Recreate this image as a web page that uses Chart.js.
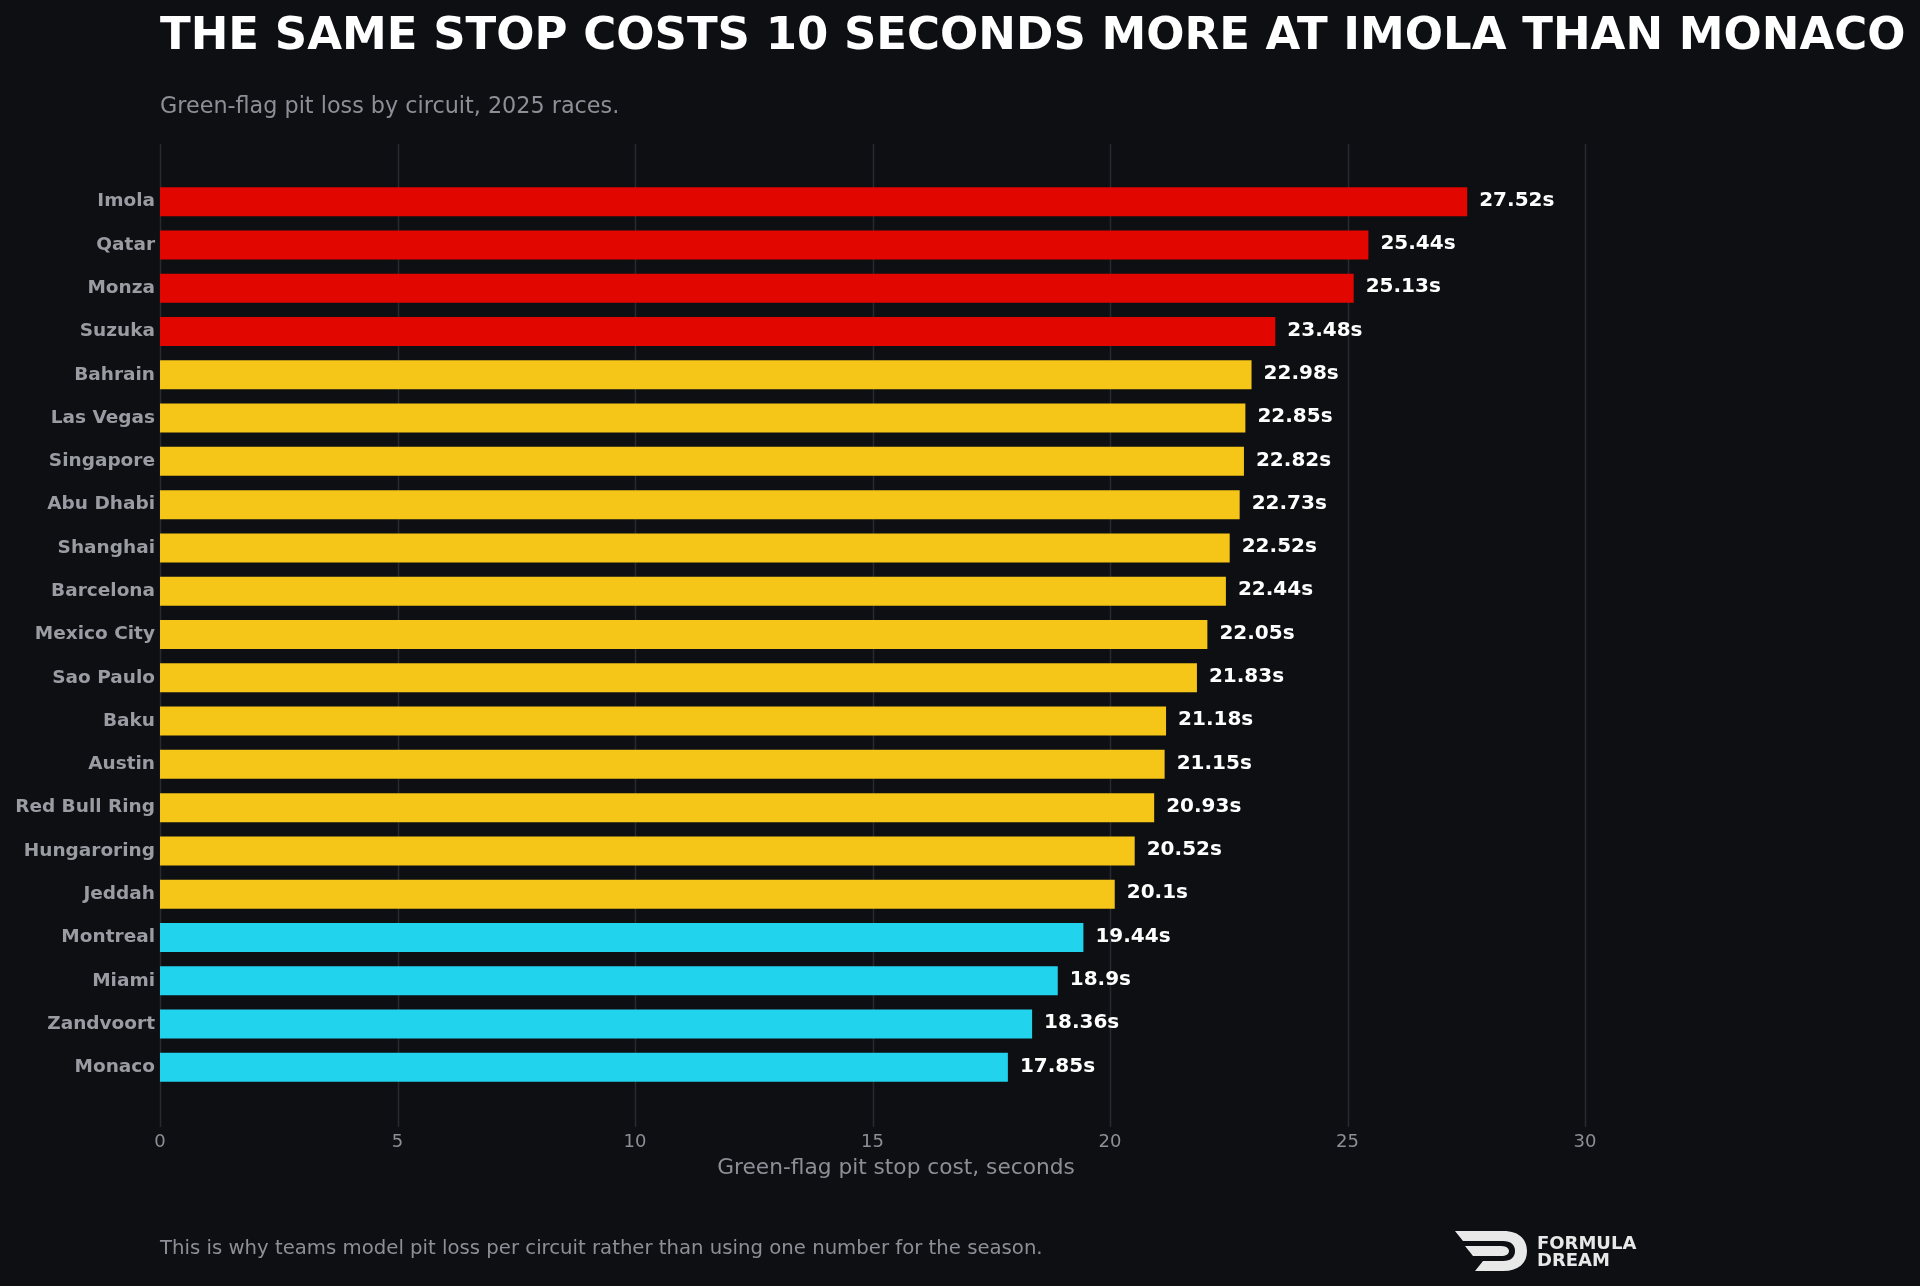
<!DOCTYPE html>
<html><head><meta charset="utf-8">
<script src="https://cdn.jsdelivr.net/npm/chart.js@4"></script>
<style>
html,body{margin:0;padding:0;background:#0e0f13;width:1920px;height:1286px;overflow:hidden;font-family:"DejaVu Sans",sans-serif}
#title{position:absolute;left:160px;top:7px;color:#fff;font-weight:bold;font-size:45px;white-space:nowrap}
#sub{position:absolute;left:160px;top:92px;color:#8c8f96;font-size:22.3px}
#foot{position:absolute;left:160px;top:1236px;color:#8c8f96;font-size:19.7px}
#xt{position:absolute;left:596px;width:600px;text-align:center;top:1154px;color:#8c8f96;font-size:21.7px}
#wrap{position:absolute;left:0;top:0;width:1920px;height:1286px}
#logo{position:absolute;left:1453px;top:1229px;display:flex;align-items:center;color:#e8e8e8;font-weight:bold;font-size:18px;line-height:17px}
</style></head><body>
<div id="wrap"><canvas id="c"></canvas></div>
<div id="title">THE SAME STOP COSTS 10 SECONDS MORE AT IMOLA THAN MONACO</div>
<div id="sub">Green-flag pit loss by circuit, 2025 races.</div>
<div id="xt">Green-flag pit stop cost, seconds</div>
<div id="foot">This is why teams model pit loss per circuit rather than using one number for the season.</div>
<div id="logo"><svg width="76" height="44" viewBox="0 0 76 44"><path d="M2 2 H50 C68 2 74 12 74 22 C74 34 66 42 50 42 H22 L30 32 H50 C58 32 62 28 62 22 C62 16 58 12 50 12 H10 Z" fill="#e8e8e8"/><path d="M12 17 H48 C54 17 56 20 56 22 C56 25 53 27 48 27 H20 Z" fill="#e8e8e8"/></svg><div style="margin-left:8px">FORMULA<br>DREAM</div></div>
<script>
const circuits=["Imola","Qatar","Monza","Suzuka","Bahrain","Las Vegas","Singapore","Abu Dhabi","Shanghai","Barcelona","Mexico City","Sao Paulo","Baku","Austin","Red Bull Ring","Hungaroring","Jeddah","Montreal","Miami","Zandvoort","Monaco"];
const pitLoss=[27.52,25.44,25.13,23.48,22.98,22.85,22.82,22.73,22.52,22.44,22.05,21.83,21.18,21.15,20.93,20.52,20.1,19.44,18.9,18.36,17.85];
const xTicks=[0,5,10,15,20,25,30];
Chart.defaults.font.family="'DejaVu Sans'";
const colors=pitLoss.map(v=>v>=23.4?"#e10600":(v>=20?"#f5c518":"#22d3ee"));
const gridPlugin={id:"gl",beforeDatasetsDraw(ch){const ctx=ch.ctx,x=ch.scales.x;ctx.save();ctx.strokeStyle="#272a30";ctx.lineWidth=1.5;xTicks.forEach(v=>{const px=Math.round(x.getPixelForValue(v))+0.5;ctx.beginPath();ctx.moveTo(px,144);ctx.lineTo(px,1127);ctx.stroke();});ctx.restore();}};
const labelPlugin={id:"vl",afterDatasetsDraw(ch){const ctx=ch.ctx;const m=ch.getDatasetMeta(0);ctx.save();ctx.fillStyle="#fff";ctx.font="bold 20px 'DejaVu Sans'";ctx.textBaseline="middle";m.data.forEach((b,i)=>{ctx.fillText(pitLoss[i]+"s",b.x+12,b.y-1);});ctx.restore();}};
new Chart(document.getElementById("c"),{type:"bar",data:{labels:circuits,datasets:[{data:pitLoss,backgroundColor:colors,barPercentage:0.67,categoryPercentage:1}]},
options:{indexAxis:"y",responsive:true,maintainAspectRatio:false,animation:false,
layout:{padding:{top:180,right:335,bottom:97,left:0}},
plugins:{legend:{display:false},tooltip:{enabled:false}},
scales:{x:{min:0,max:30,afterBuildTicks(a){a.ticks=xTicks.map(v=>({value:v}));},afterFit(a){a.height=100;},grid:{display:false},border:{display:false},ticks:{color:"#8c8f96",font:{size:18},padding:35}},
y:{afterFit(a){a.width=160;},grid:{display:false},border:{display:false},ticks:{color:"#9a9ca3",font:{size:18.5,weight:"bold"},padding:-3}}}},
plugins:[gridPlugin,labelPlugin]});
</script></body></html>
